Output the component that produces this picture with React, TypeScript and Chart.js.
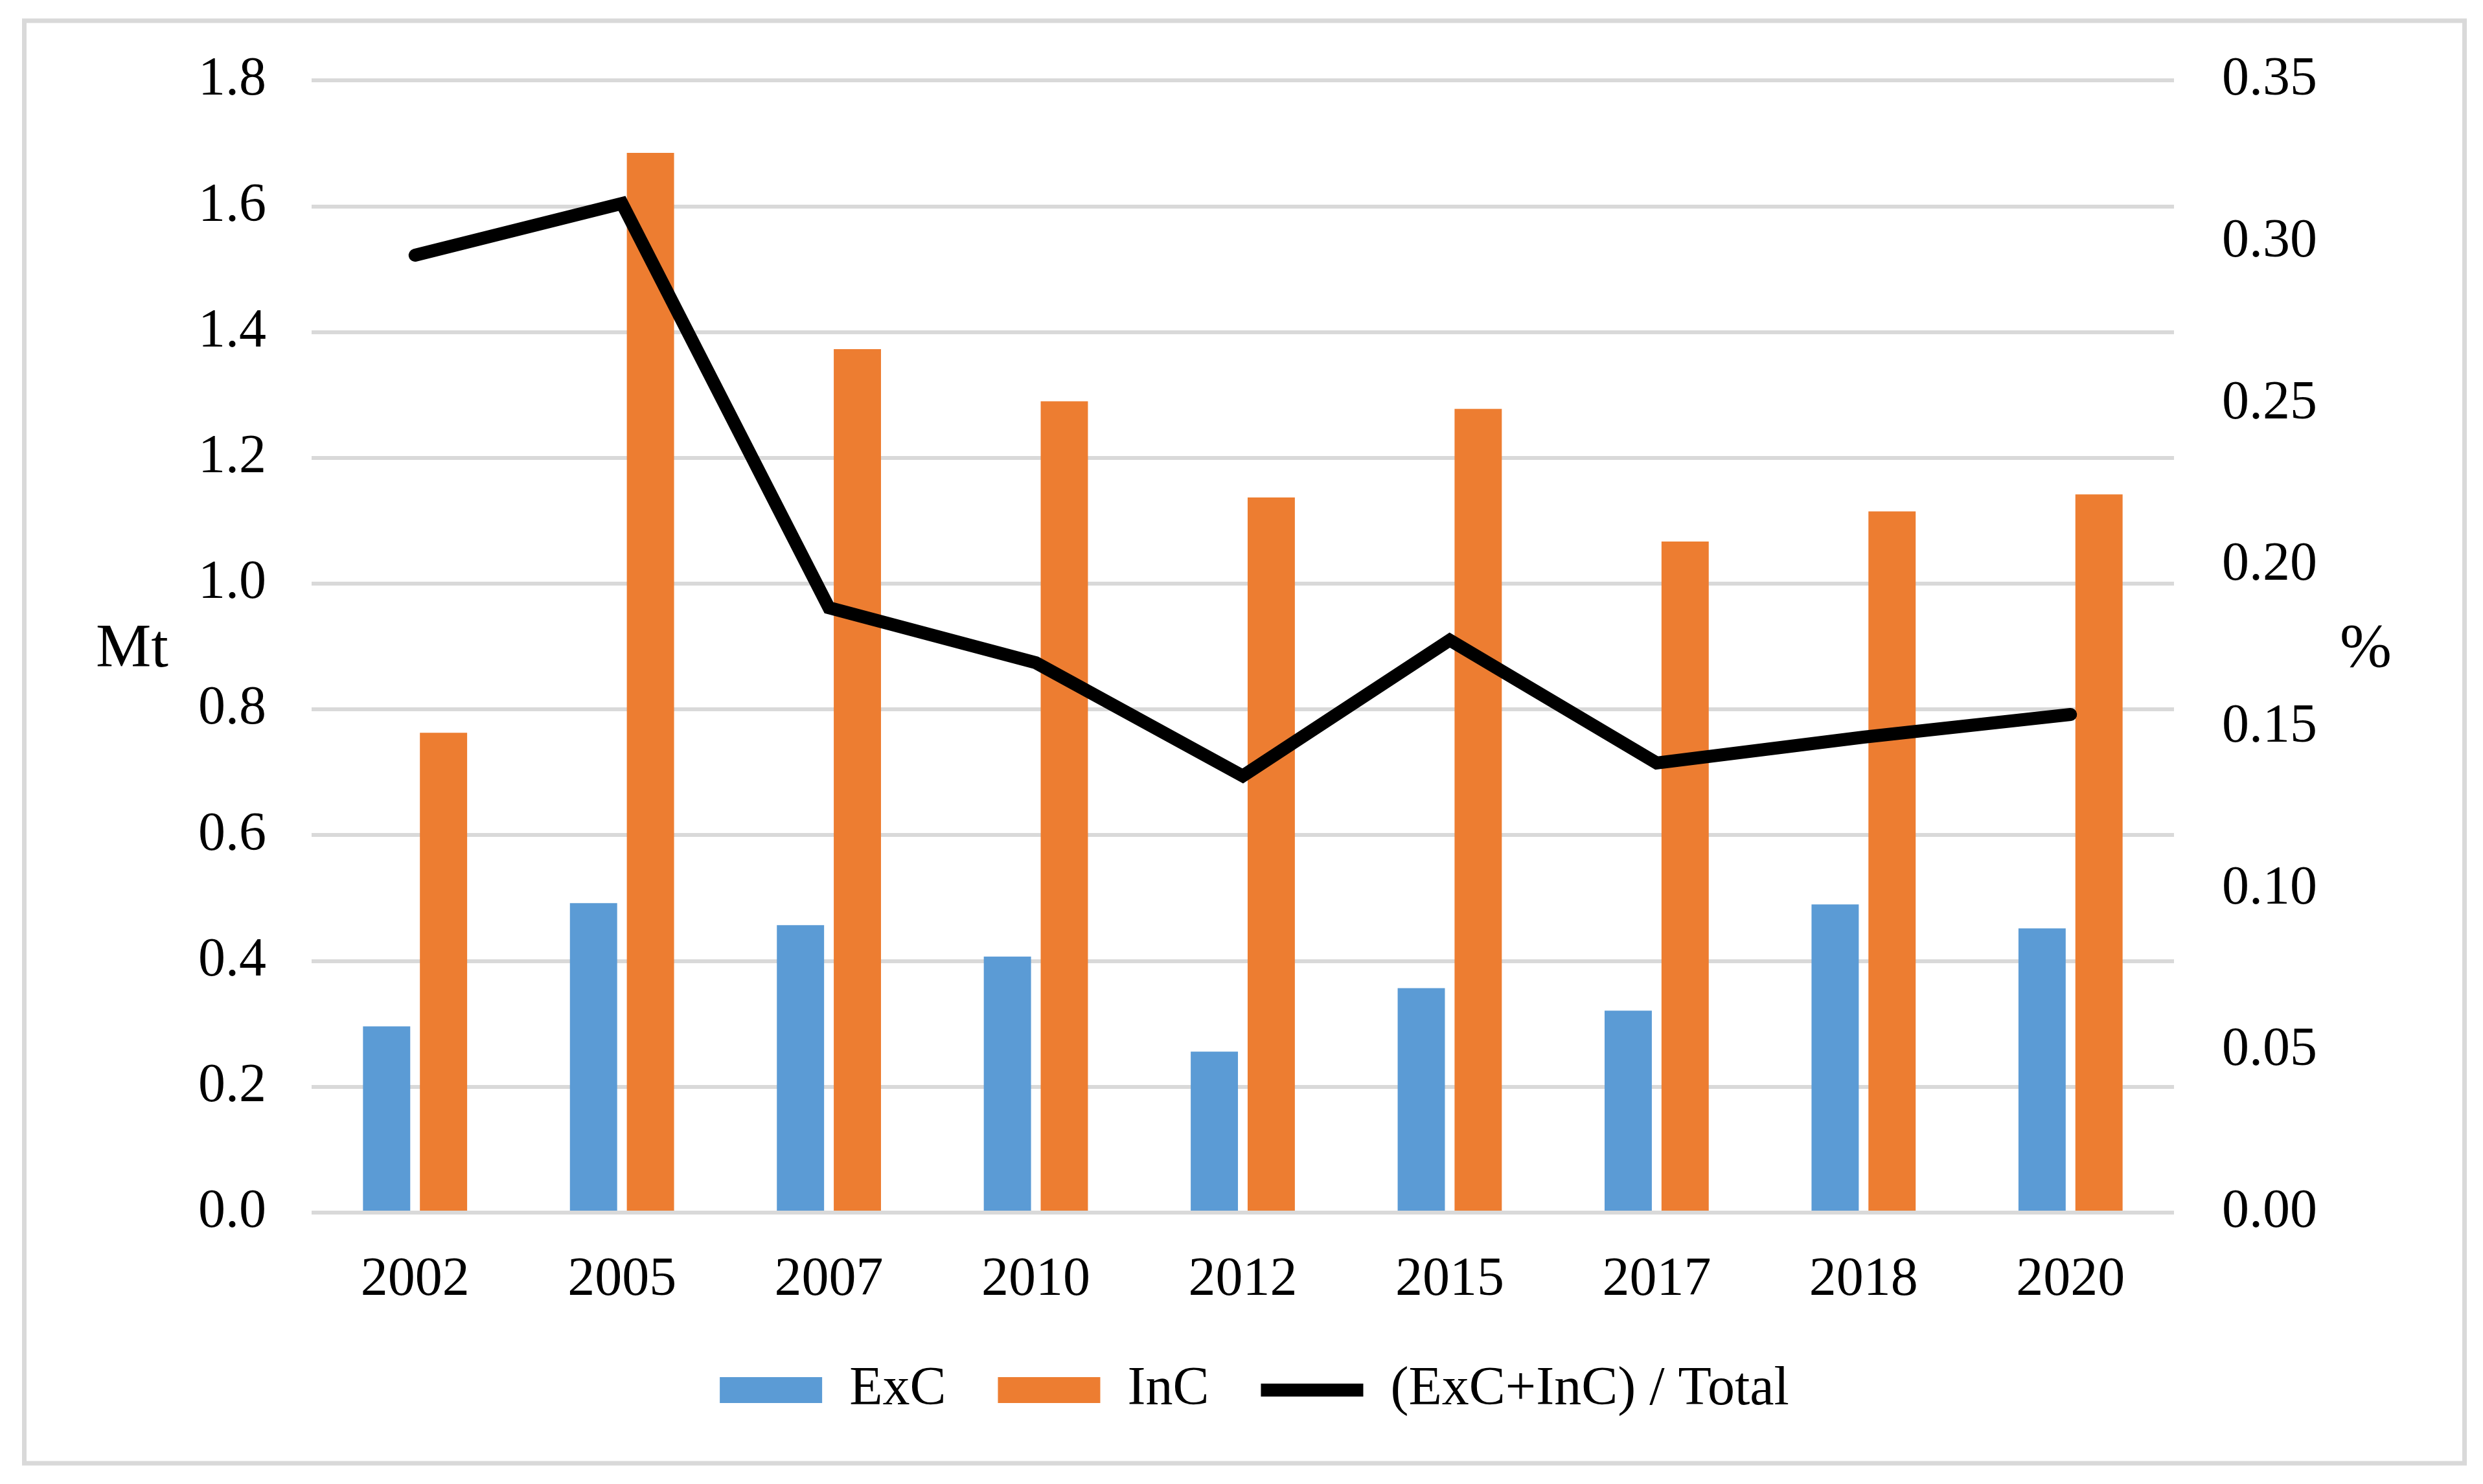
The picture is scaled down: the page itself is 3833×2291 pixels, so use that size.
import React, { useEffect, useRef } from 'react';
import { Chart, registerables } from 'chart.js';

Chart.register(...registerables);

const categories = ['2002', '2005', '2007', '2010', '2012', '2015', '2017', '2018', '2020'];
const excValues = [0.296, 0.492, 0.457, 0.407, 0.256, 0.357, 0.321, 0.49, 0.452];
const incValues = [0.763, 1.685, 1.373, 1.29, 1.137, 1.278, 1.067, 1.115, 1.142];
const ratioValues = [0.296, 0.312, 0.187, 0.17, 0.135, 0.177, 0.139, 0.147, 0.154];

const leftAxisTitle = 'Mt';
const rightAxisTitle = '%';

const W = 3833;
const H = 2291;
const FONT = '"Liberation Serif", "Times New Roman", serif';
const LEGEND_PAD = 80;
const LAYOUT_BOTTOM = 93;

const decorPlugin = {
  id: 'decor',
  beforeDraw(chart: any) {
    const ctx = chart.ctx;
    ctx.save();
    ctx.fillStyle = '#ffffff';
    ctx.fillRect(0, 0, chart.width, chart.height);
    ctx.restore();
  },
  afterDraw(chart: any) {
    const ctx = chart.ctx;
    ctx.save();
    ctx.strokeStyle = '#D9D9D9';
    ctx.lineWidth = 7;
    ctx.strokeRect(37.5, 32, 3767, 2227);
    ctx.fillStyle = '#000000';
    ctx.font = `96px ${FONT}`;
    ctx.textAlign = 'center';
    ctx.textBaseline = 'middle';
    const midY = (chart.chartArea.top + chart.chartArea.bottom) / 2 + 6;
    ctx.fillText(leftAxisTitle, 204, midY);
    ctx.fillText(rightAxisTitle, 3652, midY);
    ctx.restore();
  },
};

export default function App() {
  const canvasRef = useRef<HTMLCanvasElement | null>(null);

  useEffect(() => {
    const canvas = canvasRef.current;
    if (!canvas) return;
    const chart = new Chart(canvas, {
      type: 'bar',
      data: {
        labels: categories,
        datasets: [
          {
            type: 'bar',
            label: 'ExC',
            data: excValues,
            backgroundColor: '#5B9BD5',
            borderWidth: 0,
            yAxisID: 'y',
            categoryPercentage: 0.55,
            barPercentage: 0.83,
            pointStyle: 'rect',
            order: 1,
          },
          {
            type: 'bar',
            label: 'InC',
            data: incValues,
            backgroundColor: '#ED7D31',
            borderWidth: 0,
            yAxisID: 'y',
            categoryPercentage: 0.55,
            barPercentage: 0.83,
            pointStyle: 'rect',
            order: 1,
          },
          {
            type: 'line',
            label: '(ExC+InC) / Total',
            data: ratioValues,
            borderColor: '#000000',
            backgroundColor: '#000000',
            borderWidth: 20,
            borderCapStyle: 'round',
            borderJoinStyle: 'miter',
            pointRadius: 0,
            pointHoverRadius: 0,
            pointStyle: 'line',
            tension: 0,
            fill: false,
            yAxisID: 'y1',
            order: 0,
          },
        ],
      } as any,
      options: {
        responsive: false,
        maintainAspectRatio: false,
        animation: false,
        devicePixelRatio: 1,
        layout: { padding: { top: 120, left: 40, right: 0, bottom: LAYOUT_BOTTOM } },
        plugins: {
          tooltip: { enabled: false },
          title: { display: false },
          legend: {
            display: true,
            position: 'bottom',
            labels: {
              usePointStyle: true,
              pointStyleWidth: 158,
              boxHeight: 40,
              padding: LEGEND_PAD,
              color: '#000000',
              font: { family: FONT, size: 84 },
              sort: (a: any, b: any) => a.datasetIndex - b.datasetIndex,
            },
          },
        },
        scales: {
          x: {
            offset: true,
            grid: { display: false, drawTicks: false },
            border: { display: false },
            ticks: {
              color: '#000000',
              font: { family: FONT, size: 84 },
              padding: 55,
              maxRotation: 0,
              autoSkip: false,
            },
            afterFit: (scale: any) => {
              scale.height = H - LAYOUT_BOTTOM - (94 + LEGEND_PAD) - 1872;
            },
          },
          y: {
            position: 'left',
            min: 0,
            max: 1.8,
            grid: { color: '#D9D9D9', lineWidth: 6, drawTicks: false },
            border: { display: false },
            ticks: {
              stepSize: 0.2,
              color: '#000000',
              font: { family: FONT, size: 84 },
              padding: 70,
              callback: (v: any) => Number(v).toFixed(1),
            },
            afterFit: (scale: any) => {
              scale.width = 441;
            },
          },
          y1: {
            position: 'right',
            min: 0,
            max: 0.35,
            grid: { display: false, drawTicks: false },
            border: { display: false },
            ticks: {
              stepSize: 0.05,
              color: '#000000',
              font: { family: FONT, size: 84 },
              padding: 74,
              callback: (v: any) => Number(v).toFixed(2),
            },
            afterFit: (scale: any) => {
              scale.width = 477;
            },
          },
        },
      } as any,
      plugins: [decorPlugin],
    });
    return () => chart.destroy();
  }, []);

  return (
    <div style={{ position: 'fixed', left: 0, top: 0, width: W, height: H, background: '#ffffff' }}>
      <canvas ref={canvasRef} width={W} height={H} style={{ width: W, height: H, display: 'block' }} />
    </div>
  );
}
